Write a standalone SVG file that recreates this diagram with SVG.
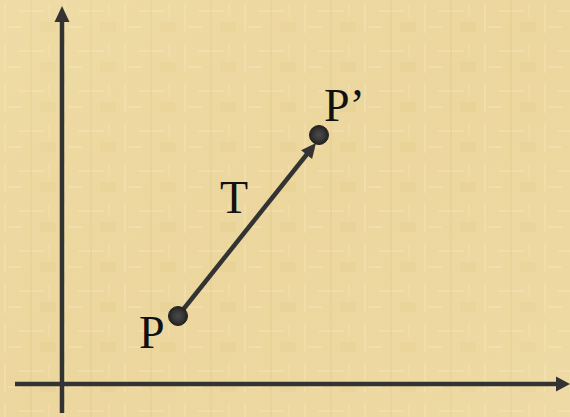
<svg xmlns="http://www.w3.org/2000/svg" width="570" height="417" viewBox="0 0 570 417">
<defs>
<style>
.axis{stroke:#333;stroke-width:4.5;fill:none}
.vec{stroke:#333;stroke-width:4.5;fill:none}
.head{fill:#333}
.lbl{font-family:"Liberation Serif","Times New Roman",serif;font-size:46px;fill:#111}
.dot{fill:url(#dotg);stroke:#222;stroke-width:1}
</style>
<radialGradient id="dotg" cx="50%" cy="50%" r="50%">
<stop offset="0" stop-color="#4a4a4a"/>
<stop offset="0.5" stop-color="#3a3a3a"/>
<stop offset="1" stop-color="#222"/>
</radialGradient>
<pattern id="tex" width="60" height="40" patternUnits="userSpaceOnUse">
<rect width="60" height="40" fill="#EDD9A4"/>
<rect x="4" y="3" width="2" height="30" fill="#F4E4B8" opacity="0.7"/>
<rect x="18" y="10" width="26" height="2" fill="#F5E6BC" opacity="0.6"/>
<rect x="30" y="0" width="2" height="40" fill="#E3CB8C" opacity="0.5"/>
<rect x="40" y="22" width="16" height="10" fill="#E6CF92" opacity="0.5"/>
<rect x="8" y="26" width="14" height="2" fill="#F6E8C2" opacity="0.6"/>
<rect x="48" y="4" width="2" height="14" fill="#F3E2B4" opacity="0.6"/>
</pattern>
<linearGradient id="shade" x1="0" y1="0" x2="1" y2="1">
<stop offset="0" stop-color="#F2DFA8" stop-opacity="0.4"/>
<stop offset="0.5" stop-color="#E8CF8C" stop-opacity="0.25"/>
<stop offset="1" stop-color="#F0DCA6" stop-opacity="0.4"/>
</linearGradient>
</defs>
<rect width="570" height="417" fill="url(#tex)"/>
<rect width="570" height="417" fill="url(#shade)"/>
<g id="connectors">
<line class="axis" x1="62" y1="413" x2="62" y2="20"/>
<path class="head" d="M62,6 L54.5,22 L69.5,22 Z"/>
<line class="axis" x1="15" y1="384" x2="558" y2="384"/>
<path class="head" d="M570,384 L556,376.5 L556,391.5 Z"/>
<line class="vec" x1="178" y1="316" x2="307.5" y2="153.5"/>
<path class="head" d="M316,143 L312.1,159.1 L301.1,150.3 Z"/>
</g>
<g id="node-P">
<circle class="dot" cx="178" cy="316" r="9.5"/>
<text class="lbl" x="139" y="348">P</text>
</g>
<g id="node-P2">
<circle class="dot" cx="319" cy="135" r="9.5"/>
<text class="lbl" x="324" y="121">P’</text>
</g>
<g id="label-T">
<text class="lbl" x="220" y="213">T</text>
</g>
</svg>
